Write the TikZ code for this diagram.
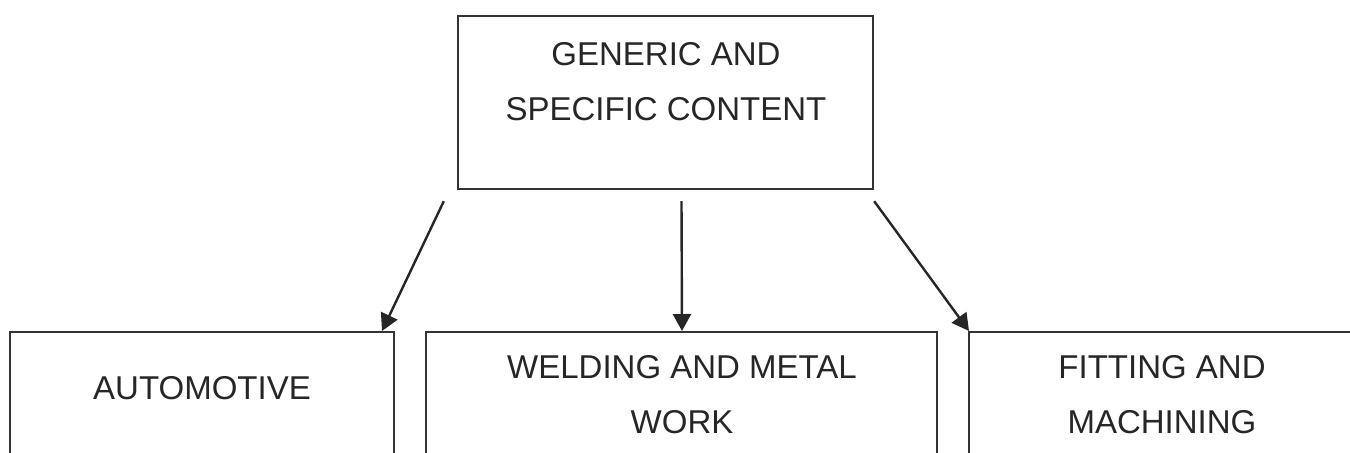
\documentclass[tikz,border=0pt]{standalone}
\usepackage{fontspec}
\setmainfont{Liberation Sans}
\usetikzlibrary{arrows.meta,calc}
\begin{document}
\begin{tikzpicture}[x=0.5pt,y=-0.5pt,
  box/.style={draw=black!80,line width=1.2pt,inner sep=0pt},
  lbl/.style={align=center,inner sep=0pt,font=\fontsize{16.5}{27.5}\selectfont,text=black!85},
  conn/.style={line width=1.2pt,draw=black!85,-{Triangle[length=8.5pt,width=9pt]}}]
\useasboundingbox (0,0) rectangle (1350,452);
\begin{scope}
\clip (0,0) rectangle (1350,452);
% boxes
\node[box,minimum width=415pt*0.5,minimum height=173pt*0.5] (top) at (665.5,102.5) {};
\node[box,minimum width=384pt*0.5,minimum height=160pt*0.5] (auto) at (202,412) {};
\node[box,minimum width=511pt*0.5,minimum height=160pt*0.5] (weld) at (681.5,412) {};
\node[box,minimum width=400pt*0.5,minimum height=160pt*0.5] (fit) at (1169,412) {};
\end{scope}
% labels
\node[lbl] (toptxt) at (666,82) {GENERIC AND\\SPECIFIC CONTENT};
\node[lbl] (autotxt) at (202,388) {AUTOMOTIVE};
\node[lbl] (weldtxt) at (682,395) {WELDING AND METAL\\WORK};
\node[lbl] (fittxt) at (1162,395) {FITTING AND\\MACHINING};
% connectors
\coordinate (s1) at ($(top.south west)+(-13,11)$);
\coordinate (s2) at ($(top.south)+(16,11)$);
\coordinate (s3) at ($(top.south east)+(0,11)$);
\coordinate (e1) at (382,331);
\coordinate (e2) at (682,331);
\coordinate (e3) at (969,331);
\draw[conn] (s1) -- (e1);
\draw[conn] (s2) -- (e2);
\draw[conn] (s3) -- (e3);
\end{tikzpicture}
\end{document}
